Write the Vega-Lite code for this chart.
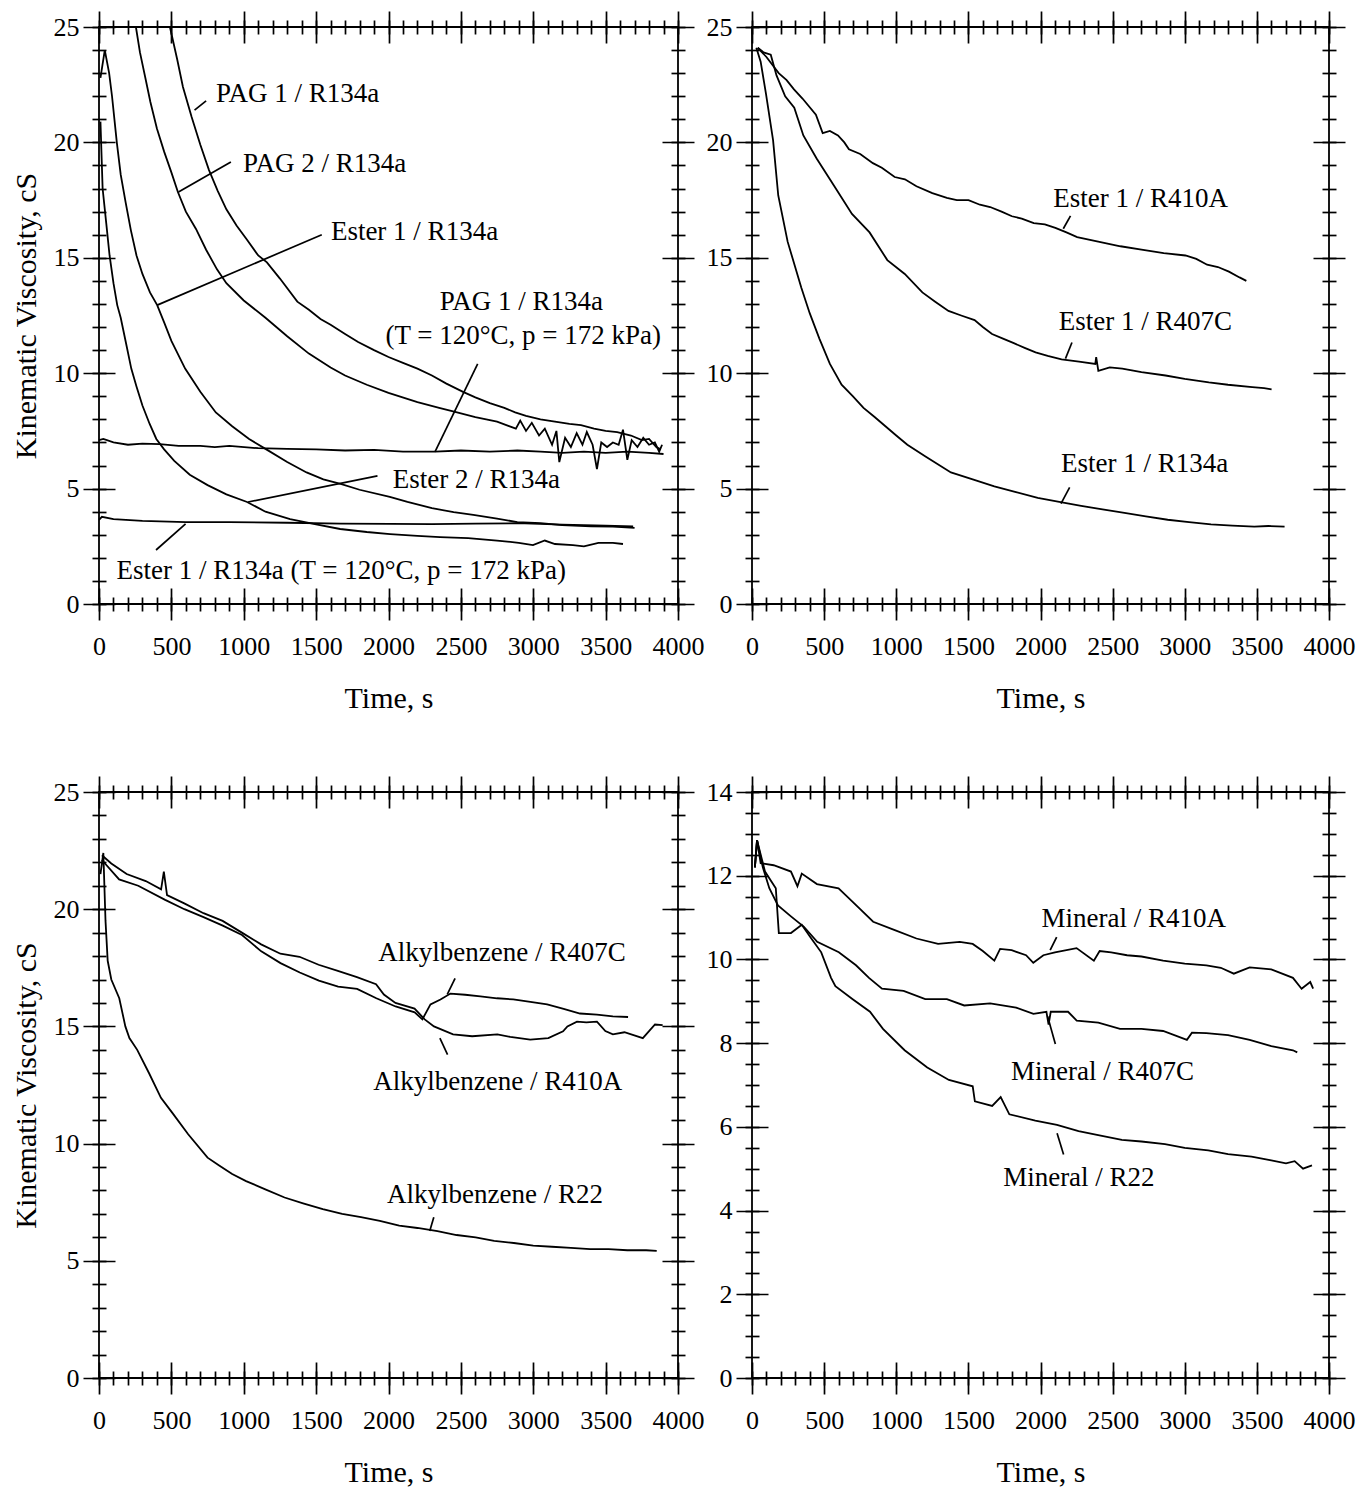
{
"$schema": "https://vega.github.io/schema/vega-lite/v6.json",
"background": "white",
"padding": {"left": 10, "top": 9, "right": 5, "bottom": 5},
"config": {
 "view": {"stroke": "black", "strokeWidth": 1.8},
 "axis": {"grid": false, "domain": false, "tickColor": "black", "tickWidth": 1.7, "labelFont": "Liberation Serif", "labelFontSize": 26, "labelColor": "black", "titleFont": "Liberation Serif", "titleFontSize": 30, "titleFontWeight": "normal", "titleColor": "black", "labelOverlap": false, "labelFlush": false, "labelBound": false},
 "line": {"color": "black", "strokeWidth": 1.8, "clip": true},
 "rule": {"color": "black", "strokeWidth": 1.7},
 "text": {"font": "Liberation Serif", "fontSize": 27, "color": "black", "align": "left", "baseline": "alphabetic"}
},
"datasets": {
 "p1": [
  {"s":"PAG1","t":490,"v":25.0},{"s":"PAG1","t":540,"v":23.6},{"s":"PAG1","t":580,"v":22.4},{"s":"PAG1","t":640,"v":21.1},{"s":"PAG1","t":700,"v":19.9},{"s":"PAG1","t":760,"v":18.8},{"s":"PAG1","t":820,"v":17.9},{"s":"PAG1","t":880,"v":17.1},{"s":"PAG1","t":950,"v":16.4},{"s":"PAG1","t":1020,"v":15.8},{"s":"PAG1","t":1100,"v":15.1},{"s":"PAG1","t":1160,"v":14.8},{"s":"PAG1","t":1250,"v":14.1},{"s":"PAG1","t":1370,"v":13.1},{"s":"PAG1","t":1450,"v":12.75},{"s":"PAG1","t":1530,"v":12.35},{"s":"PAG1","t":1600,"v":12.1},{"s":"PAG1","t":1700,"v":11.7},{"s":"PAG1","t":1790,"v":11.35},{"s":"PAG1","t":1900,"v":11.0},{"s":"PAG1","t":2000,"v":10.7},{"s":"PAG1","t":2100,"v":10.45},{"s":"PAG1","t":2200,"v":10.2},{"s":"PAG1","t":2300,"v":9.9},{"s":"PAG1","t":2400,"v":9.55},{"s":"PAG1","t":2515,"v":9.19},{"s":"PAG1","t":2600,"v":8.95},{"s":"PAG1","t":2700,"v":8.7},{"s":"PAG1","t":2800,"v":8.5},{"s":"PAG1","t":2875,"v":8.3},{"s":"PAG1","t":2950,"v":8.15},{"s":"PAG1","t":3050,"v":8.0},{"s":"PAG1","t":3150,"v":7.9},{"s":"PAG1","t":3250,"v":7.8},{"s":"PAG1","t":3330,"v":7.75},{"s":"PAG1","t":3420,"v":7.6},{"s":"PAG1","t":3500,"v":7.5},{"s":"PAG1","t":3580,"v":7.45},{"s":"PAG1","t":3675,"v":7.3},{"s":"PAG1","t":3750,"v":7.1},{"s":"PAG1","t":3800,"v":7.15},{"s":"PAG1","t":3850,"v":6.8},{"s":"PAG1","t":3880,"v":6.7},
  {"s":"PAG2","t":255,"v":25.0},{"s":"PAG2","t":283,"v":23.9},{"s":"PAG2","t":320,"v":22.8},{"s":"PAG2","t":355,"v":21.75},{"s":"PAG2","t":400,"v":20.6},{"s":"PAG2","t":450,"v":19.6},{"s":"PAG2","t":500,"v":18.7},{"s":"PAG2","t":545,"v":17.85},{"s":"PAG2","t":600,"v":17.0},{"s":"PAG2","t":670,"v":16.25},{"s":"PAG2","t":740,"v":15.35},{"s":"PAG2","t":815,"v":14.5},{"s":"PAG2","t":880,"v":13.9},{"s":"PAG2","t":1000,"v":13.15},{"s":"PAG2","t":1150,"v":12.4},{"s":"PAG2","t":1300,"v":11.6},{"s":"PAG2","t":1450,"v":10.85},{"s":"PAG2","t":1600,"v":10.25},{"s":"PAG2","t":1700,"v":9.9},{"s":"PAG2","t":1850,"v":9.5},{"s":"PAG2","t":2000,"v":9.15},{"s":"PAG2","t":2200,"v":8.75},{"s":"PAG2","t":2350,"v":8.5},{"s":"PAG2","t":2460,"v":8.32},{"s":"PAG2","t":2600,"v":8.1},{"s":"PAG2","t":2750,"v":7.9},{"s":"PAG2","t":2880,"v":7.6},{"s":"PAG2","t":2910,"v":7.95},{"s":"PAG2","t":2950,"v":7.5},{"s":"PAG2","t":2990,"v":7.85},{"s":"PAG2","t":3040,"v":7.3},{"s":"PAG2","t":3080,"v":7.6},{"s":"PAG2","t":3130,"v":6.9},{"s":"PAG2","t":3160,"v":7.5},{"s":"PAG2","t":3180,"v":6.15},{"s":"PAG2","t":3220,"v":7.2},{"s":"PAG2","t":3260,"v":6.8},{"s":"PAG2","t":3300,"v":7.4},{"s":"PAG2","t":3340,"v":6.9},{"s":"PAG2","t":3370,"v":7.45},{"s":"PAG2","t":3410,"v":6.9},{"s":"PAG2","t":3440,"v":5.85},{"s":"PAG2","t":3470,"v":7.0},{"s":"PAG2","t":3510,"v":6.8},{"s":"PAG2","t":3550,"v":7.0},{"s":"PAG2","t":3590,"v":6.9},{"s":"PAG2","t":3620,"v":7.55},{"s":"PAG2","t":3650,"v":6.25},{"s":"PAG2","t":3680,"v":7.1},{"s":"PAG2","t":3720,"v":6.8},{"s":"PAG2","t":3760,"v":7.2},{"s":"PAG2","t":3800,"v":6.9},{"s":"PAG2","t":3840,"v":7.0},{"s":"PAG2","t":3870,"v":6.6},{"s":"PAG2","t":3890,"v":6.9},
  {"s":"E1","t":10,"v":22.8},{"s":"E1","t":40,"v":24.0},{"s":"E1","t":70,"v":23.0},{"s":"E1","t":90,"v":22.0},{"s":"E1","t":123,"v":20.0},{"s":"E1","t":150,"v":18.6},{"s":"E1","t":184,"v":17.4},{"s":"E1","t":220,"v":16.2},{"s":"E1","t":259,"v":15.1},{"s":"E1","t":300,"v":14.3},{"s":"E1","t":352,"v":13.5},{"s":"E1","t":402,"v":12.95},{"s":"E1","t":450,"v":12.2},{"s":"E1","t":500,"v":11.4},{"s":"E1","t":595,"v":10.2},{"s":"E1","t":700,"v":9.2},{"s":"E1","t":807,"v":8.3},{"s":"E1","t":920,"v":7.7},{"s":"E1","t":1037,"v":7.15},{"s":"E1","t":1156,"v":6.7},{"s":"E1","t":1300,"v":6.15},{"s":"E1","t":1434,"v":5.7},{"s":"E1","t":1550,"v":5.4},{"s":"E1","t":1669,"v":5.2},{"s":"E1","t":1800,"v":4.95},{"s":"E1","t":2009,"v":4.64},{"s":"E1","t":2131,"v":4.42},{"s":"E1","t":2300,"v":4.15},{"s":"E1","t":2450,"v":3.98},{"s":"E1","t":2586,"v":3.86},{"s":"E1","t":2750,"v":3.7},{"s":"E1","t":2890,"v":3.55},{"s":"E1","t":3050,"v":3.5},{"s":"E1","t":3200,"v":3.42},{"s":"E1","t":3400,"v":3.36},{"s":"E1","t":3550,"v":3.35},{"s":"E1","t":3700,"v":3.3},
  {"s":"E2","t":10,"v":20.9},{"s":"E2","t":25,"v":18.0},{"s":"E2","t":50,"v":16.5},{"s":"E2","t":73,"v":15.1},{"s":"E2","t":100,"v":13.9},{"s":"E2","t":126,"v":12.95},{"s":"E2","t":150,"v":12.4},{"s":"E2","t":190,"v":11.2},{"s":"E2","t":223,"v":10.2},{"s":"E2","t":260,"v":9.4},{"s":"E2","t":300,"v":8.6},{"s":"E2","t":350,"v":7.8},{"s":"E2","t":396,"v":7.15},{"s":"E2","t":450,"v":6.7},{"s":"E2","t":520,"v":6.2},{"s":"E2","t":627,"v":5.6},{"s":"E2","t":750,"v":5.15},{"s":"E2","t":880,"v":4.75},{"s":"E2","t":1023,"v":4.42},{"s":"E2","t":1150,"v":4.0},{"s":"E2","t":1320,"v":3.68},{"s":"E2","t":1500,"v":3.45},{"s":"E2","t":1666,"v":3.25},{"s":"E2","t":1850,"v":3.12},{"s":"E2","t":2011,"v":3.03},{"s":"E2","t":2200,"v":2.95},{"s":"E2","t":2356,"v":2.9},{"s":"E2","t":2550,"v":2.85},{"s":"E2","t":2750,"v":2.75},{"s":"E2","t":2900,"v":2.65},{"s":"E2","t":2998,"v":2.55},{"s":"E2","t":3080,"v":2.75},{"s":"E2","t":3150,"v":2.6},{"s":"E2","t":3274,"v":2.55},{"s":"E2","t":3350,"v":2.5},{"s":"E2","t":3450,"v":2.65},{"s":"E2","t":3550,"v":2.65},{"s":"E2","t":3620,"v":2.6},
  {"s":"P1H","t":0,"v":7.1},{"s":"P1H","t":30,"v":7.15},{"s":"P1H","t":100,"v":7.0},{"s":"P1H","t":200,"v":6.9},{"s":"P1H","t":300,"v":6.95},{"s":"P1H","t":420,"v":6.93},{"s":"P1H","t":550,"v":6.85},{"s":"P1H","t":700,"v":6.85},{"s":"P1H","t":800,"v":6.8},{"s":"P1H","t":900,"v":6.85},{"s":"P1H","t":1100,"v":6.75},{"s":"P1H","t":1300,"v":6.72},{"s":"P1H","t":1500,"v":6.7},{"s":"P1H","t":1700,"v":6.65},{"s":"P1H","t":1900,"v":6.68},{"s":"P1H","t":2100,"v":6.6},{"s":"P1H","t":2321,"v":6.6},{"s":"P1H","t":2500,"v":6.65},{"s":"P1H","t":2700,"v":6.6},{"s":"P1H","t":2890,"v":6.65},{"s":"P1H","t":3050,"v":6.6},{"s":"P1H","t":3200,"v":6.55},{"s":"P1H","t":3350,"v":6.6},{"s":"P1H","t":3500,"v":6.55},{"s":"P1H","t":3650,"v":6.6},{"s":"P1H","t":3800,"v":6.55},{"s":"P1H","t":3900,"v":6.5},
  {"s":"E1H","t":0,"v":3.65},{"s":"E1H","t":20,"v":3.78},{"s":"E1H","t":100,"v":3.68},{"s":"E1H","t":300,"v":3.6},{"s":"E1H","t":600,"v":3.55},{"s":"E1H","t":900,"v":3.55},{"s":"E1H","t":1300,"v":3.52},{"s":"E1H","t":1669,"v":3.48},{"s":"E1H","t":2014,"v":3.47},{"s":"E1H","t":2300,"v":3.46},{"s":"E1H","t":2600,"v":3.48},{"s":"E1H","t":2890,"v":3.5},{"s":"E1H","t":3200,"v":3.44},{"s":"E1H","t":3500,"v":3.4},{"s":"E1H","t":3690,"v":3.36}
 ],
 "p1lead": [
  {"t":660,"v":21.4,"t2":740,"v2":21.8},{"t":549,"v":17.85,"t2":911,"v2":19.15},{"t":402,"v":12.95,"t2":1539,"v2":16.0},{"t":2616,"v":10.4,"t2":2321,"v2":6.59},{"t":1924,"v":5.55,"t2":1030,"v2":4.42},{"t":394,"v":2.34,"t2":598,"v2":3.47}
 ],
 "p1lab": [
  {"t":808,"v":21.75,"label":"PAG 1 / R134a"},{"t":995,"v":18.72,"label":"PAG 2 / R134a"},{"t":1602,"v":15.77,"label":"Ester 1 / R134a"},{"t":2354,"v":12.74,"label":"PAG 1 / R134a"},{"t":1979,"v":11.27,"label":"(T = 120°C, p = 172 kPa)"},{"t":2029,"v":5.03,"label":"Ester 2 / R134a"},{"t":121,"v":1.08,"label":"Ester 1 / R134a (T = 120°C, p = 172 kPa)"}
 ],
 "p2": [
  {"s":"A","t":40,"v":24.1},{"s":"A","t":100,"v":23.7},{"s":"A","t":185,"v":23.0},{"s":"A","t":240,"v":22.7},{"s":"A","t":291,"v":22.3},{"s":"A","t":350,"v":21.9},{"s":"A","t":443,"v":21.2},{"s":"A","t":490,"v":20.4},{"s":"A","t":540,"v":20.5},{"s":"A","t":596,"v":20.3},{"s":"A","t":640,"v":20.0},{"s":"A","t":672,"v":19.7},{"s":"A","t":750,"v":19.5},{"s":"A","t":838,"v":19.1},{"s":"A","t":900,"v":18.9},{"s":"A","t":989,"v":18.5},{"s":"A","t":1060,"v":18.4},{"s":"A","t":1140,"v":18.1},{"s":"A","t":1250,"v":17.8},{"s":"A","t":1351,"v":17.6},{"s":"A","t":1420,"v":17.5},{"s":"A","t":1501,"v":17.5},{"s":"A","t":1580,"v":17.3},{"s":"A","t":1651,"v":17.2},{"s":"A","t":1730,"v":17.0},{"s":"A","t":1802,"v":16.8},{"s":"A","t":1870,"v":16.7},{"s":"A","t":1953,"v":16.5},{"s":"A","t":2030,"v":16.45},{"s":"A","t":2103,"v":16.3},{"s":"A","t":2180,"v":16.1},{"s":"A","t":2254,"v":15.9},{"s":"A","t":2400,"v":15.7},{"s":"A","t":2554,"v":15.5},{"s":"A","t":2700,"v":15.35},{"s":"A","t":2854,"v":15.2},{"s":"A","t":3005,"v":15.1},{"s":"A","t":3080,"v":14.95},{"s":"A","t":3155,"v":14.7},{"s":"A","t":3230,"v":14.6},{"s":"A","t":3306,"v":14.4},{"s":"A","t":3380,"v":14.15},{"s":"A","t":3427,"v":14.0},
  {"s":"C","t":40,"v":24.1},{"s":"C","t":80,"v":23.9},{"s":"C","t":130,"v":23.8},{"s":"C","t":170,"v":22.9},{"s":"C","t":230,"v":22.0},{"s":"C","t":293,"v":21.5},{"s":"C","t":356,"v":20.3},{"s":"C","t":448,"v":19.3},{"s":"C","t":571,"v":18.1},{"s":"C","t":693,"v":16.9},{"s":"C","t":815,"v":16.1},{"s":"C","t":938,"v":14.9},{"s":"C","t":1059,"v":14.3},{"s":"C","t":1181,"v":13.5},{"s":"C","t":1270,"v":13.1},{"s":"C","t":1362,"v":12.7},{"s":"C","t":1450,"v":12.5},{"s":"C","t":1543,"v":12.3},{"s":"C","t":1600,"v":12.0},{"s":"C","t":1664,"v":11.7},{"s":"C","t":1740,"v":11.5},{"s":"C","t":1815,"v":11.3},{"s":"C","t":1890,"v":11.1},{"s":"C","t":1966,"v":10.9},{"s":"C","t":2050,"v":10.75},{"s":"C","t":2146,"v":10.6},{"s":"C","t":2267,"v":10.5},{"s":"C","t":2380,"v":10.4},{"s":"C","t":2386,"v":10.7},{"s":"C","t":2401,"v":10.1},{"s":"C","t":2480,"v":10.25},{"s":"C","t":2567,"v":10.2},{"s":"C","t":2700,"v":10.05},{"s":"C","t":2867,"v":9.9},{"s":"C","t":3000,"v":9.75},{"s":"C","t":3167,"v":9.6},{"s":"C","t":3300,"v":9.5},{"s":"C","t":3468,"v":9.4},{"s":"C","t":3550,"v":9.35},{"s":"C","t":3602,"v":9.3},
  {"s":"B","t":30,"v":24.1},{"s":"B","t":60,"v":23.5},{"s":"B","t":97,"v":22.1},{"s":"B","t":146,"v":20.1},{"s":"B","t":182,"v":17.7},{"s":"B","t":247,"v":15.7},{"s":"B","t":342,"v":13.7},{"s":"B","t":400,"v":12.6},{"s":"B","t":467,"v":11.5},{"s":"B","t":540,"v":10.4},{"s":"B","t":621,"v":9.5},{"s":"B","t":700,"v":9.0},{"s":"B","t":773,"v":8.5},{"s":"B","t":850,"v":8.1},{"s":"B","t":925,"v":7.7},{"s":"B","t":1000,"v":7.3},{"s":"B","t":1077,"v":6.9},{"s":"B","t":1200,"v":6.4},{"s":"B","t":1379,"v":5.7},{"s":"B","t":1530,"v":5.4},{"s":"B","t":1680,"v":5.1},{"s":"B","t":1830,"v":4.85},{"s":"B","t":1981,"v":4.6},{"s":"B","t":2130,"v":4.42},{"s":"B","t":2282,"v":4.25},{"s":"B","t":2430,"v":4.1},{"s":"B","t":2582,"v":3.95},{"s":"B","t":2730,"v":3.8},{"s":"B","t":2882,"v":3.65},{"s":"B","t":3030,"v":3.55},{"s":"B","t":3182,"v":3.45},{"s":"B","t":3330,"v":3.4},{"s":"B","t":3482,"v":3.35},{"s":"B","t":3580,"v":3.38},{"s":"B","t":3692,"v":3.35}
 ],
 "p2lead": [
  {"t":2158,"v":16.26,"t2":2208,"v2":16.82},{"t":2173,"v":10.63,"t2":2218,"v2":11.33},{"t":2142,"v":4.35,"t2":2202,"v2":5.05}
 ],
 "p2lab": [
  {"t":2088,"v":17.18,"label":"Ester 1 / R410A"},{"t":2127,"v":11.87,"label":"Ester 1 / R407C"},{"t":2142,"v":5.71,"label":"Ester 1 / R134a"}
 ],
 "p3": [
  {"s":"R22","t":10,"v":21.5},{"s":"R22","t":30,"v":22.4},{"s":"R22","t":45,"v":19.5},{"s":"R22","t":60,"v":17.8},{"s":"R22","t":85,"v":17.0},{"s":"R22","t":140,"v":16.2},{"s":"R22","t":182,"v":15.0},{"s":"R22","t":210,"v":14.5},{"s":"R22","t":264,"v":14.0},{"s":"R22","t":346,"v":13.0},{"s":"R22","t":428,"v":11.95},{"s":"R22","t":508,"v":11.3},{"s":"R22","t":616,"v":10.4},{"s":"R22","t":750,"v":9.4},{"s":"R22","t":830,"v":9.07},{"s":"R22","t":920,"v":8.7},{"s":"R22","t":1016,"v":8.4},{"s":"R22","t":1149,"v":8.05},{"s":"R22","t":1282,"v":7.7},{"s":"R22","t":1410,"v":7.45},{"s":"R22","t":1546,"v":7.2},{"s":"R22","t":1680,"v":7.0},{"s":"R22","t":1810,"v":6.86},{"s":"R22","t":1940,"v":6.7},{"s":"R22","t":2074,"v":6.5},{"s":"R22","t":2200,"v":6.4},{"s":"R22","t":2338,"v":6.27},{"s":"R22","t":2470,"v":6.1},{"s":"R22","t":2602,"v":6.0},{"s":"R22","t":2730,"v":5.85},{"s":"R22","t":2866,"v":5.76},{"s":"R22","t":3000,"v":5.65},{"s":"R22","t":3129,"v":5.6},{"s":"R22","t":3260,"v":5.55},{"s":"R22","t":3393,"v":5.5},{"s":"R22","t":3520,"v":5.5},{"s":"R22","t":3650,"v":5.45},{"s":"R22","t":3780,"v":5.45},{"s":"R22","t":3853,"v":5.42},
  {"s":"A","t":20,"v":22.3},{"s":"A","t":85,"v":21.95},{"s":"A","t":191,"v":21.5},{"s":"A","t":323,"v":21.2},{"s":"A","t":429,"v":20.85},{"s":"A","t":448,"v":21.6},{"s":"A","t":470,"v":20.6},{"s":"A","t":589,"v":20.25},{"s":"A","t":722,"v":19.83},{"s":"A","t":854,"v":19.5},{"s":"A","t":987,"v":19.0},{"s":"A","t":1120,"v":18.5},{"s":"A","t":1253,"v":18.1},{"s":"A","t":1385,"v":17.97},{"s":"A","t":1517,"v":17.63},{"s":"A","t":1650,"v":17.37},{"s":"A","t":1782,"v":17.1},{"s":"A","t":1914,"v":16.8},{"s":"A","t":1968,"v":16.36},{"s":"A","t":2048,"v":16.0},{"s":"A","t":2180,"v":15.76},{"s":"A","t":2250,"v":15.3},{"s":"A","t":2314,"v":15.0},{"s":"A","t":2446,"v":14.66},{"s":"A","t":2578,"v":14.58},{"s":"A","t":2752,"v":14.66},{"s":"A","t":2841,"v":14.55},{"s":"A","t":2979,"v":14.44},{"s":"A","t":3104,"v":14.5},{"s":"A","t":3206,"v":14.79},{"s":"A","t":3236,"v":15.0},{"s":"A","t":3302,"v":15.2},{"s":"A","t":3367,"v":15.17},{"s":"A","t":3440,"v":15.2},{"s":"A","t":3498,"v":14.8},{"s":"A","t":3550,"v":14.66},{"s":"A","t":3630,"v":14.75},{"s":"A","t":3757,"v":14.5},{"s":"A","t":3841,"v":15.08},{"s":"A","t":3894,"v":15.05},
  {"s":"C","t":20,"v":22.1},{"s":"C","t":139,"v":21.27},{"s":"C","t":271,"v":21.0},{"s":"C","t":457,"v":20.4},{"s":"C","t":590,"v":20.0},{"s":"C","t":722,"v":19.66},{"s":"C","t":855,"v":19.3},{"s":"C","t":988,"v":18.9},{"s":"C","t":1121,"v":18.2},{"s":"C","t":1254,"v":17.7},{"s":"C","t":1387,"v":17.3},{"s":"C","t":1519,"v":16.95},{"s":"C","t":1652,"v":16.7},{"s":"C","t":1783,"v":16.6},{"s":"C","t":1916,"v":16.2},{"s":"C","t":2049,"v":15.85},{"s":"C","t":2181,"v":15.6},{"s":"C","t":2234,"v":15.3},{"s":"C","t":2290,"v":15.94},{"s":"C","t":2359,"v":16.15},{"s":"C","t":2428,"v":16.4},{"s":"C","t":2530,"v":16.35},{"s":"C","t":2635,"v":16.28},{"s":"C","t":2750,"v":16.2},{"s":"C","t":2862,"v":16.15},{"s":"C","t":2980,"v":16.05},{"s":"C","t":3096,"v":15.94},{"s":"C","t":3210,"v":15.75},{"s":"C","t":3323,"v":15.55},{"s":"C","t":3440,"v":15.5},{"s":"C","t":3550,"v":15.43},{"s":"C","t":3655,"v":15.4}
 ],
 "p3lead": [
  {"t":2406,"v":16.37,"t2":2460,"v2":17.05},{"t":2355,"v":14.5,"t2":2408,"v2":13.8},{"t":2285,"v":6.27,"t2":2313,"v2":6.86}
 ],
 "p3lab": [
  {"t":1930,"v":17.78,"label":"Alkylbenzene / R407C"},{"t":1895,"v":12.3,"label":"Alkylbenzene / R410A"},{"t":1990,"v":7.46,"label":"Alkylbenzene / R22"}
 ],
 "p4": [
  {"s":"A","t":20,"v":12.2},{"s":"A","t":35,"v":12.85},{"s":"A","t":60,"v":12.3},{"s":"A","t":150,"v":12.25},{"s":"A","t":270,"v":12.1},{"s":"A","t":315,"v":11.75},{"s":"A","t":345,"v":12.05},{"s":"A","t":450,"v":11.8},{"s":"A","t":600,"v":11.7},{"s":"A","t":660,"v":11.5},{"s":"A","t":750,"v":11.2},{"s":"A","t":840,"v":10.9},{"s":"A","t":990,"v":10.7},{"s":"A","t":1140,"v":10.5},{"s":"A","t":1290,"v":10.37},{"s":"A","t":1440,"v":10.42},{"s":"A","t":1530,"v":10.37},{"s":"A","t":1600,"v":10.2},{"s":"A","t":1680,"v":9.97},{"s":"A","t":1720,"v":10.25},{"s":"A","t":1800,"v":10.22},{"s":"A","t":1900,"v":10.1},{"s":"A","t":1950,"v":9.92},{"s":"A","t":2020,"v":10.1},{"s":"A","t":2100,"v":10.17},{"s":"A","t":2250,"v":10.27},{"s":"A","t":2370,"v":9.97},{"s":"A","t":2410,"v":10.2},{"s":"A","t":2490,"v":10.17},{"s":"A","t":2600,"v":10.1},{"s":"A","t":2700,"v":10.07},{"s":"A","t":2850,"v":9.97},{"s":"A","t":3000,"v":9.9},{"s":"A","t":3150,"v":9.86},{"s":"A","t":3250,"v":9.8},{"s":"A","t":3340,"v":9.66},{"s":"A","t":3450,"v":9.81},{"s":"A","t":3600,"v":9.76},{"s":"A","t":3750,"v":9.56},{"s":"A","t":3810,"v":9.3},{"s":"A","t":3870,"v":9.46},{"s":"A","t":3890,"v":9.3},
  {"s":"C","t":20,"v":12.2},{"s":"C","t":35,"v":12.85},{"s":"C","t":75,"v":12.2},{"s":"C","t":120,"v":11.7},{"s":"C","t":180,"v":11.29},{"s":"C","t":270,"v":11.03},{"s":"C","t":360,"v":10.78},{"s":"C","t":452,"v":10.42},{"s":"C","t":602,"v":10.17},{"s":"C","t":721,"v":9.86},{"s":"C","t":811,"v":9.56},{"s":"C","t":901,"v":9.3},{"s":"C","t":1051,"v":9.25},{"s":"C","t":1201,"v":9.05},{"s":"C","t":1351,"v":9.05},{"s":"C","t":1471,"v":8.9},{"s":"C","t":1651,"v":8.95},{"s":"C","t":1831,"v":8.85},{"s":"C","t":1951,"v":8.7},{"s":"C","t":2041,"v":8.75},{"s":"C","t":2056,"v":8.44},{"s":"C","t":2071,"v":8.75},{"s":"C","t":2191,"v":8.75},{"s":"C","t":2251,"v":8.54},{"s":"C","t":2401,"v":8.49},{"s":"C","t":2551,"v":8.34},{"s":"C","t":2700,"v":8.34},{"s":"C","t":2850,"v":8.29},{"s":"C","t":3015,"v":8.08},{"s":"C","t":3050,"v":8.25},{"s":"C","t":3150,"v":8.24},{"s":"C","t":3300,"v":8.19},{"s":"C","t":3450,"v":8.08},{"s":"C","t":3600,"v":7.93},{"s":"C","t":3750,"v":7.83},{"s":"C","t":3780,"v":7.78},
  {"s":"R22","t":20,"v":12.2},{"s":"R22","t":35,"v":12.85},{"s":"R22","t":90,"v":12.1},{"s":"R22","t":165,"v":11.7},{"s":"R22","t":186,"v":10.63},{"s":"R22","t":270,"v":10.63},{"s":"R22","t":345,"v":10.83},{"s":"R22","t":405,"v":10.53},{"s":"R22","t":480,"v":10.17},{"s":"R22","t":548,"v":9.56},{"s":"R22","t":578,"v":9.36},{"s":"R22","t":698,"v":9.05},{"s":"R22","t":818,"v":8.75},{"s":"R22","t":908,"v":8.34},{"s":"R22","t":1058,"v":7.83},{"s":"R22","t":1215,"v":7.42},{"s":"R22","t":1365,"v":7.12},{"s":"R22","t":1530,"v":6.97},{"s":"R22","t":1545,"v":6.61},{"s":"R22","t":1665,"v":6.5},{"s":"R22","t":1724,"v":6.71},{"s":"R22","t":1784,"v":6.3},{"s":"R22","t":1964,"v":6.15},{"s":"R22","t":2114,"v":6.05},{"s":"R22","t":2264,"v":5.9},{"s":"R22","t":2400,"v":5.8},{"s":"R22","t":2564,"v":5.69},{"s":"R22","t":2700,"v":5.65},{"s":"R22","t":2863,"v":5.59},{"s":"R22","t":3000,"v":5.5},{"s":"R22","t":3163,"v":5.44},{"s":"R22","t":3300,"v":5.35},{"s":"R22","t":3463,"v":5.29},{"s":"R22","t":3600,"v":5.2},{"s":"R22","t":3702,"v":5.13},{"s":"R22","t":3762,"v":5.18},{"s":"R22","t":3820,"v":5.0},{"s":"R22","t":3882,"v":5.08}
 ],
 "p4lead": [
  {"t":2067,"v":10.22,"t2":2112,"v2":10.53},{"t":2049,"v":8.64,"t2":2103,"v2":7.98},{"t":2115,"v":5.85,"t2":2160,"v2":5.34}
 ],
 "p4lab": [
  {"t":2007,"v":10.78,"label":"Mineral / R410A"},{"t":1795,"v":7.12,"label":"Mineral / R407C"},{"t":1741,"v":4.58,"label":"Mineral / R22"}
 ]
},
"spacing": 60,
"vconcat": [
 {"hconcat": [
  {"width": 579, "height": 577,
   "resolve": {"axis": {"x": "independent", "y": "independent"}},
   "layer": [
    {"data": {"name": "p1"}, "mark": {"type": "line"},
     "encoding": {
      "x": {"field": "t", "type": "quantitative", "scale": {"domain": [0, 4000], "nice": false, "zero": false}, "axis": {"orient": "bottom", "offset": -16, "tickSize": 32, "values": [0,500,1000,1500,2000,2500,3000,3500,4000], "labelPadding": 13, "format": "d", "title": "Time, s", "titlePadding": 24}},
      "y": {"field": "v", "type": "quantitative", "scale": {"domain": [0, 25], "nice": false}, "axis": {"orient": "left", "offset": -16, "tickSize": 32, "values": [0,5,10,15,20,25], "labelPadding": 4, "format": "d", "title": "Kinematic Viscosity, cS", "titlePadding": 12}},
      "detail": {"field": "s"}}},
    {"data": {"name": "p1"}, "mark": {"type": "point", "opacity": 0},
     "encoding": {
      "x": {"field": "t", "type": "quantitative", "scale": {"domain": [0, 4000], "nice": false, "zero": false}, "axis": {"orient": "bottom", "offset": -7, "tickSize": 14, "values": [0,100,200,300,400,500,600,700,800,900,1000,1100,1200,1300,1400,1500,1600,1700,1800,1900,2000,2100,2200,2300,2400,2500,2600,2700,2800,2900,3000,3100,3200,3300,3400,3500,3600,3700,3800,3900,4000], "labels": false, "title": null}},
      "y": {"field": "v", "type": "quantitative", "scale": {"domain": [0, 25], "nice": false}, "axis": {"orient": "left", "offset": -7, "tickSize": 14, "values": [0,1,2,3,4,5,6,7,8,9,10,11,12,13,14,15,16,17,18,19,20,21,22,23,24,25], "labels": false, "title": null}}}},
    {"data": {"name": "p1"}, "mark": {"type": "point", "opacity": 0},
     "encoding": {
      "x": {"field": "t", "type": "quantitative", "scale": {"domain": [0, 4000], "nice": false, "zero": false}, "axis": {"orient": "top", "offset": -16, "tickSize": 32, "values": [0,500,1000,1500,2000,2500,3000,3500,4000], "labels": false, "title": null}},
      "y": {"field": "v", "type": "quantitative", "scale": {"domain": [0, 25], "nice": false}, "axis": {"orient": "right", "offset": -16, "tickSize": 32, "values": [0,5,10,15,20,25], "labels": false, "title": null}}}},
    {"data": {"name": "p1"}, "mark": {"type": "point", "opacity": 0},
     "encoding": {
      "x": {"field": "t", "type": "quantitative", "scale": {"domain": [0, 4000], "nice": false, "zero": false}, "axis": {"orient": "top", "offset": -7, "tickSize": 14, "values": [0,100,200,300,400,500,600,700,800,900,1000,1100,1200,1300,1400,1500,1600,1700,1800,1900,2000,2100,2200,2300,2400,2500,2600,2700,2800,2900,3000,3100,3200,3300,3400,3500,3600,3700,3800,3900,4000], "labels": false, "title": null}},
      "y": {"field": "v", "type": "quantitative", "scale": {"domain": [0, 25], "nice": false}, "axis": {"orient": "right", "offset": -7, "tickSize": 14, "values": [0,1,2,3,4,5,6,7,8,9,10,11,12,13,14,15,16,17,18,19,20,21,22,23,24,25], "labels": false, "title": null}}}},
    {"data": {"name": "p1lead"}, "mark": {"type": "rule"},
     "encoding": {
      "x": {"field": "t", "type": "quantitative", "scale": {"domain": [0, 4000], "nice": false, "zero": false}, "axis": null},
      "y": {"field": "v", "type": "quantitative", "scale": {"domain": [0, 25], "nice": false}, "axis": null},
      "x2": {"field": "t2"}, "y2": {"field": "v2"}}},
    {"data": {"name": "p1lab"}, "mark": {"type": "text"},
     "encoding": {
      "x": {"field": "t", "type": "quantitative", "scale": {"domain": [0, 4000], "nice": false, "zero": false}, "axis": null},
      "y": {"field": "v", "type": "quantitative", "scale": {"domain": [0, 25], "nice": false}, "axis": null},
      "text": {"field": "label"}}}
   ]},
  {"width": 577, "height": 577,
   "resolve": {"axis": {"x": "independent", "y": "independent"}},
   "layer": [
    {"data": {"name": "p2"}, "mark": {"type": "line"},
     "encoding": {
      "x": {"field": "t", "type": "quantitative", "scale": {"domain": [0, 4000], "nice": false, "zero": false}, "axis": {"orient": "bottom", "offset": -16, "tickSize": 32, "values": [0,500,1000,1500,2000,2500,3000,3500,4000], "labelPadding": 13, "format": "d", "title": "Time, s", "titlePadding": 24}},
      "y": {"field": "v", "type": "quantitative", "scale": {"domain": [0, 25], "nice": false}, "axis": {"orient": "left", "offset": -16, "tickSize": 32, "values": [0,5,10,15,20,25], "labelPadding": 4, "format": "d", "title": null}},
      "detail": {"field": "s"}}},
    {"data": {"name": "p2"}, "mark": {"type": "point", "opacity": 0},
     "encoding": {
      "x": {"field": "t", "type": "quantitative", "scale": {"domain": [0, 4000], "nice": false, "zero": false}, "axis": {"orient": "bottom", "offset": -7, "tickSize": 14, "values": [0,100,200,300,400,500,600,700,800,900,1000,1100,1200,1300,1400,1500,1600,1700,1800,1900,2000,2100,2200,2300,2400,2500,2600,2700,2800,2900,3000,3100,3200,3300,3400,3500,3600,3700,3800,3900,4000], "labels": false, "title": null}},
      "y": {"field": "v", "type": "quantitative", "scale": {"domain": [0, 25], "nice": false}, "axis": {"orient": "left", "offset": -7, "tickSize": 14, "values": [0,1,2,3,4,5,6,7,8,9,10,11,12,13,14,15,16,17,18,19,20,21,22,23,24,25], "labels": false, "title": null}}}},
    {"data": {"name": "p2"}, "mark": {"type": "point", "opacity": 0},
     "encoding": {
      "x": {"field": "t", "type": "quantitative", "scale": {"domain": [0, 4000], "nice": false, "zero": false}, "axis": {"orient": "top", "offset": -16, "tickSize": 32, "values": [0,500,1000,1500,2000,2500,3000,3500,4000], "labels": false, "title": null}},
      "y": {"field": "v", "type": "quantitative", "scale": {"domain": [0, 25], "nice": false}, "axis": {"orient": "right", "offset": -16, "tickSize": 32, "values": [0,5,10,15,20,25], "labels": false, "title": null}}}},
    {"data": {"name": "p2"}, "mark": {"type": "point", "opacity": 0},
     "encoding": {
      "x": {"field": "t", "type": "quantitative", "scale": {"domain": [0, 4000], "nice": false, "zero": false}, "axis": {"orient": "top", "offset": -7, "tickSize": 14, "values": [0,100,200,300,400,500,600,700,800,900,1000,1100,1200,1300,1400,1500,1600,1700,1800,1900,2000,2100,2200,2300,2400,2500,2600,2700,2800,2900,3000,3100,3200,3300,3400,3500,3600,3700,3800,3900,4000], "labels": false, "title": null}},
      "y": {"field": "v", "type": "quantitative", "scale": {"domain": [0, 25], "nice": false}, "axis": {"orient": "right", "offset": -7, "tickSize": 14, "values": [0,1,2,3,4,5,6,7,8,9,10,11,12,13,14,15,16,17,18,19,20,21,22,23,24,25], "labels": false, "title": null}}}},
    {"data": {"name": "p2lead"}, "mark": {"type": "rule"},
     "encoding": {
      "x": {"field": "t", "type": "quantitative", "scale": {"domain": [0, 4000], "nice": false, "zero": false}, "axis": null},
      "y": {"field": "v", "type": "quantitative", "scale": {"domain": [0, 25], "nice": false}, "axis": null},
      "x2": {"field": "t2"}, "y2": {"field": "v2"}}},
    {"data": {"name": "p2lab"}, "mark": {"type": "text"},
     "encoding": {
      "x": {"field": "t", "type": "quantitative", "scale": {"domain": [0, 4000], "nice": false, "zero": false}, "axis": null},
      "y": {"field": "v", "type": "quantitative", "scale": {"domain": [0, 25], "nice": false}, "axis": null},
      "text": {"field": "label"}}}
   ]}
 ], "spacing": 74, "bounds": "flush"},
 {"hconcat": [
  {"width": 579, "height": 586,
   "resolve": {"axis": {"x": "independent", "y": "independent"}},
   "layer": [
    {"data": {"name": "p3"}, "mark": {"type": "line"},
     "encoding": {
      "x": {"field": "t", "type": "quantitative", "scale": {"domain": [0, 4000], "nice": false, "zero": false}, "axis": {"orient": "bottom", "offset": -16, "tickSize": 32, "values": [0,500,1000,1500,2000,2500,3000,3500,4000], "labelPadding": 13, "format": "d", "title": "Time, s", "titlePadding": 24}},
      "y": {"field": "v", "type": "quantitative", "scale": {"domain": [0, 25], "nice": false}, "axis": {"orient": "left", "offset": -16, "tickSize": 32, "values": [0,5,10,15,20,25], "labelPadding": 4, "format": "d", "title": "Kinematic Viscosity, cS", "titlePadding": 12}},
      "detail": {"field": "s"}}},
    {"data": {"name": "p3"}, "mark": {"type": "point", "opacity": 0},
     "encoding": {
      "x": {"field": "t", "type": "quantitative", "scale": {"domain": [0, 4000], "nice": false, "zero": false}, "axis": {"orient": "bottom", "offset": -7, "tickSize": 14, "values": [0,100,200,300,400,500,600,700,800,900,1000,1100,1200,1300,1400,1500,1600,1700,1800,1900,2000,2100,2200,2300,2400,2500,2600,2700,2800,2900,3000,3100,3200,3300,3400,3500,3600,3700,3800,3900,4000], "labels": false, "title": null}},
      "y": {"field": "v", "type": "quantitative", "scale": {"domain": [0, 25], "nice": false}, "axis": {"orient": "left", "offset": -7, "tickSize": 14, "values": [0,1,2,3,4,5,6,7,8,9,10,11,12,13,14,15,16,17,18,19,20,21,22,23,24,25], "labels": false, "title": null}}}},
    {"data": {"name": "p3"}, "mark": {"type": "point", "opacity": 0},
     "encoding": {
      "x": {"field": "t", "type": "quantitative", "scale": {"domain": [0, 4000], "nice": false, "zero": false}, "axis": {"orient": "top", "offset": -16, "tickSize": 32, "values": [0,500,1000,1500,2000,2500,3000,3500,4000], "labels": false, "title": null}},
      "y": {"field": "v", "type": "quantitative", "scale": {"domain": [0, 25], "nice": false}, "axis": {"orient": "right", "offset": -16, "tickSize": 32, "values": [0,5,10,15,20,25], "labels": false, "title": null}}}},
    {"data": {"name": "p3"}, "mark": {"type": "point", "opacity": 0},
     "encoding": {
      "x": {"field": "t", "type": "quantitative", "scale": {"domain": [0, 4000], "nice": false, "zero": false}, "axis": {"orient": "top", "offset": -7, "tickSize": 14, "values": [0,100,200,300,400,500,600,700,800,900,1000,1100,1200,1300,1400,1500,1600,1700,1800,1900,2000,2100,2200,2300,2400,2500,2600,2700,2800,2900,3000,3100,3200,3300,3400,3500,3600,3700,3800,3900,4000], "labels": false, "title": null}},
      "y": {"field": "v", "type": "quantitative", "scale": {"domain": [0, 25], "nice": false}, "axis": {"orient": "right", "offset": -7, "tickSize": 14, "values": [0,1,2,3,4,5,6,7,8,9,10,11,12,13,14,15,16,17,18,19,20,21,22,23,24,25], "labels": false, "title": null}}}},
    {"data": {"name": "p3lead"}, "mark": {"type": "rule"},
     "encoding": {
      "x": {"field": "t", "type": "quantitative", "scale": {"domain": [0, 4000], "nice": false, "zero": false}, "axis": null},
      "y": {"field": "v", "type": "quantitative", "scale": {"domain": [0, 25], "nice": false}, "axis": null},
      "x2": {"field": "t2"}, "y2": {"field": "v2"}}},
    {"data": {"name": "p3lab"}, "mark": {"type": "text"},
     "encoding": {
      "x": {"field": "t", "type": "quantitative", "scale": {"domain": [0, 4000], "nice": false, "zero": false}, "axis": null},
      "y": {"field": "v", "type": "quantitative", "scale": {"domain": [0, 25], "nice": false}, "axis": null},
      "text": {"field": "label"}}}
   ]},
  {"width": 577, "height": 586,
   "resolve": {"axis": {"x": "independent", "y": "independent"}},
   "layer": [
    {"data": {"name": "p4"}, "mark": {"type": "line"},
     "encoding": {
      "x": {"field": "t", "type": "quantitative", "scale": {"domain": [0, 4000], "nice": false, "zero": false}, "axis": {"orient": "bottom", "offset": -16, "tickSize": 32, "values": [0,500,1000,1500,2000,2500,3000,3500,4000], "labelPadding": 13, "format": "d", "title": "Time, s", "titlePadding": 24}},
      "y": {"field": "v", "type": "quantitative", "scale": {"domain": [0, 14], "nice": false}, "axis": {"orient": "left", "offset": -16, "tickSize": 32, "values": [0,2,4,6,8,10,12,14], "labelPadding": 4, "format": "d", "title": null}},
      "detail": {"field": "s"}}},
    {"data": {"name": "p4"}, "mark": {"type": "point", "opacity": 0},
     "encoding": {
      "x": {"field": "t", "type": "quantitative", "scale": {"domain": [0, 4000], "nice": false, "zero": false}, "axis": {"orient": "bottom", "offset": -7, "tickSize": 14, "values": [0,100,200,300,400,500,600,700,800,900,1000,1100,1200,1300,1400,1500,1600,1700,1800,1900,2000,2100,2200,2300,2400,2500,2600,2700,2800,2900,3000,3100,3200,3300,3400,3500,3600,3700,3800,3900,4000], "labels": false, "title": null}},
      "y": {"field": "v", "type": "quantitative", "scale": {"domain": [0, 14], "nice": false}, "axis": {"orient": "left", "offset": -7, "tickSize": 14, "values": [0,0.5,1,1.5,2,2.5,3,3.5,4,4.5,5,5.5,6,6.5,7,7.5,8,8.5,9,9.5,10,10.5,11,11.5,12,12.5,13,13.5,14], "labels": false, "title": null}}}},
    {"data": {"name": "p4"}, "mark": {"type": "point", "opacity": 0},
     "encoding": {
      "x": {"field": "t", "type": "quantitative", "scale": {"domain": [0, 4000], "nice": false, "zero": false}, "axis": {"orient": "top", "offset": -16, "tickSize": 32, "values": [0,500,1000,1500,2000,2500,3000,3500,4000], "labels": false, "title": null}},
      "y": {"field": "v", "type": "quantitative", "scale": {"domain": [0, 14], "nice": false}, "axis": {"orient": "right", "offset": -16, "tickSize": 32, "values": [0,2,4,6,8,10,12,14], "labels": false, "title": null}}}},
    {"data": {"name": "p4"}, "mark": {"type": "point", "opacity": 0},
     "encoding": {
      "x": {"field": "t", "type": "quantitative", "scale": {"domain": [0, 4000], "nice": false, "zero": false}, "axis": {"orient": "top", "offset": -7, "tickSize": 14, "values": [0,100,200,300,400,500,600,700,800,900,1000,1100,1200,1300,1400,1500,1600,1700,1800,1900,2000,2100,2200,2300,2400,2500,2600,2700,2800,2900,3000,3100,3200,3300,3400,3500,3600,3700,3800,3900,4000], "labels": false, "title": null}},
      "y": {"field": "v", "type": "quantitative", "scale": {"domain": [0, 14], "nice": false}, "axis": {"orient": "right", "offset": -7, "tickSize": 14, "values": [0,0.5,1,1.5,2,2.5,3,3.5,4,4.5,5,5.5,6,6.5,7,7.5,8,8.5,9,9.5,10,10.5,11,11.5,12,12.5,13,13.5,14], "labels": false, "title": null}}}},
    {"data": {"name": "p4lead"}, "mark": {"type": "rule"},
     "encoding": {
      "x": {"field": "t", "type": "quantitative", "scale": {"domain": [0, 4000], "nice": false, "zero": false}, "axis": null},
      "y": {"field": "v", "type": "quantitative", "scale": {"domain": [0, 14], "nice": false}, "axis": null},
      "x2": {"field": "t2"}, "y2": {"field": "v2"}}},
    {"data": {"name": "p4lab"}, "mark": {"type": "text"},
     "encoding": {
      "x": {"field": "t", "type": "quantitative", "scale": {"domain": [0, 4000], "nice": false, "zero": false}, "axis": null},
      "y": {"field": "v", "type": "quantitative", "scale": {"domain": [0, 14], "nice": false}, "axis": null},
      "text": {"field": "label"}}}
   ]}
 ], "spacing": 74, "bounds": "flush"}
]
}
